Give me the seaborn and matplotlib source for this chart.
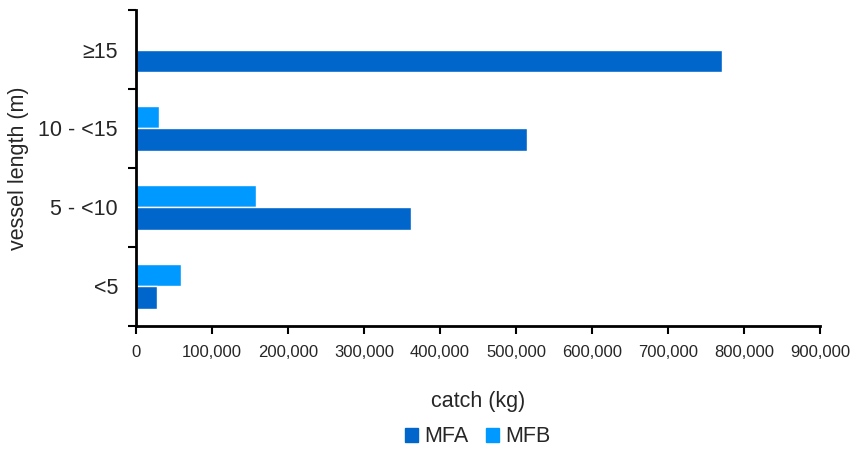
import pandas as pd
import matplotlib.pyplot as plt
import seaborn as sns
from matplotlib.patches import Patch
from matplotlib.ticker import FuncFormatter, FixedLocator

lengths = ['≥15', '10 - <15', '5 - <10', '<5']
mfa = [771000, 515000, 362000, 28000]
mfb = [0, 30000, 158000, 59000]

df = pd.DataFrame({'length': lengths * 2,
                   'catch': mfa + mfb,
                   'type': ['MFA'] * 4 + ['MFB'] * 4})

sns.set_style('white')
plt.rcParams['font.family'] = ['Liberation Sans', 'DejaVu Sans']

colors = {'MFA': '#0066CC', 'MFB': '#0099FF'}

fig = plt.figure(figsize=(8.53, 4.49), dpi=100)
ax = fig.add_axes([0.1594, 0.274, 0.8019, 0.7037])

sns.barplot(data=df, y='length', x='catch', hue='type', order=lengths,
            hue_order=['MFB', 'MFA'], palette=colors, width=0.58,
            orient='h', ax=ax, legend=False, saturation=1)

ax.set_xlim(0, 900000)
ax.set_ylim(3.5, -0.5)
ax.set_xticks(range(0, 900001, 100000))
ax.xaxis.set_major_formatter(FuncFormatter(lambda v, p: f'{int(v):,}'))
ax.yaxis.set_minor_locator(FixedLocator([-0.5, 0.5, 1.5, 2.5, 3.5]))
ax.tick_params(axis='y', which='major', length=0, labelsize=15.5, pad=13)
ax.tick_params(axis='y', which='minor', length=6, width=1.5, color='black', left=True)
ax.tick_params(axis='x', length=6, width=1.5, color='black', bottom=True, labelsize=12, pad=8)

for s in ['top', 'right']:
    ax.spines[s].set_visible(False)
for s in ['left', 'bottom']:
    ax.spines[s].set_linewidth(2)
    ax.spines[s].set_color('black')

ax.set_xlabel('catch (kg)', fontsize=15.5, labelpad=22)
ax.set_ylabel('vessel length (m)', fontsize=15.5, labelpad=7)

handles = [Patch(color=colors['MFA'], label='MFA'), Patch(color=colors['MFB'], label='MFB')]
fig.legend(handles=handles, loc='center', bbox_to_anchor=(0.56, 0.027), ncol=2,
           frameon=False, fontsize=15.5, handlelength=0.6, handleheight=0.6,
           handletextpad=0.3, columnspacing=0.8)

fig.savefig('out.png', dpi=100)
